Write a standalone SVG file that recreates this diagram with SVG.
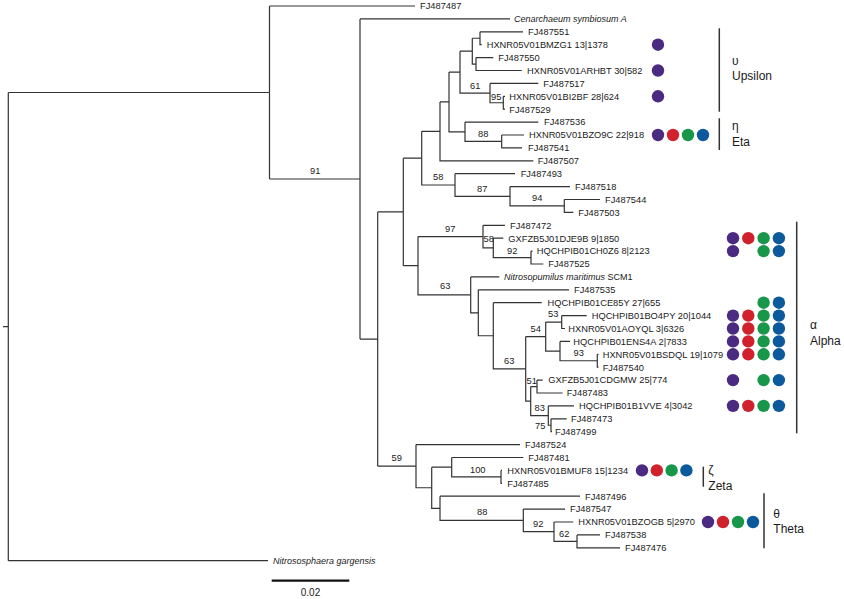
<svg xmlns="http://www.w3.org/2000/svg" width="844" height="599" viewBox="0 0 844 599">
<style>
text{font-family:"Liberation Sans",Arial,sans-serif;fill:#1a1a1a}
.lb{font-size:9.3px}
.it{font-size:9px;font-style:italic}
.bs{font-size:9.3px}
.cl{font-size:12px}
.br{fill:none;stroke:#333;stroke-width:1.2}
.bar{stroke:#333;stroke-width:1.5}
.p{fill:#4b2b82}.r{fill:#d0222c}.g{fill:#18964a}.b{fill:#0c5a9b}
</style>
<rect width="844" height="599" fill="#fff"/>
<g id="connectors">
<path class="br" d="M3 326.6H8.3 M8.3 92.49V560.7 M8.3 92.49H269.5 M8.3 560.7H268"/>
<path class="br" d="M269.5 6V178.98 M269.5 6H415 M269.5 178.98H360"/>
<path class="br" d="M360 18.9V339.06 M360 18.9H510 M360 339.06H377.7"/>
<path class="br" d="M377.7 211.95V466.17 M377.7 211.95H403.3 M377.7 466.17H416"/>
<path class="br" d="M403.3 158.18V265.72 M403.3 158.18H421.7 M403.3 265.72H418"/>
<path class="br" d="M421.7 131.37V184.99H455 M421.7 131.37H440"/>
<path class="br" d="M440 101.94V160.8H533.3 M440 101.94H449"/>
<path class="br" d="M449 72.1V131.78H465 M449 72.1H460"/>
<path class="br" d="M460 51.15V93.08H490 M460 51.15H472.3"/>
<path class="br" d="M472.3 38.25V64.05H476 M472.3 38.25H480"/>
<path class="br" d="M480 31.8V44.7H481.7 M480 31.8H523"/>
<path class="br" d="M476 57.6V70.5H521.7 M476 57.6H493.3"/>
<path class="br" d="M490 83.4V102.75H503.3 M490 83.4H538.3"/>
<path class="br" d="M503.3 96.3V109.2H505 M503.3 96.3H505"/>
<path class="br" d="M465 122.1V141.45H501.7 M465 122.1H538.3"/>
<path class="br" d="M501.7 135V147.9H522 M501.7 135H524"/>
<path class="br" d="M455 173.7V196.28H510 M455 173.7H515"/>
<path class="br" d="M510 186.6V205.95H564.3 M510 186.6H570"/>
<path class="br" d="M564.3 199.5V212.4H573.3 M564.3 199.5H600"/>
<path class="br" d="M418 236.59V294.84H470.7 M418 236.59H483"/>
<path class="br" d="M483 225.3V247.88H493.3 M483 225.3H505"/>
<path class="br" d="M493.3 238.2V257.55H531 M493.3 238.2H503.3"/>
<path class="br" d="M531 251.1V264H543.3 M531 251.1H532.5"/>
<path class="br" d="M470.7 276.9V312.78H478.3 M470.7 276.9H499.3"/>
<path class="br" d="M478.3 289.8V335.76H493.3 M478.3 289.8H569"/>
<path class="br" d="M493.3 302.7V368.81H525.7 M493.3 302.7H541.7"/>
<path class="br" d="M525.7 336.56V401.06H530.7 M525.7 336.56H545.7"/>
<path class="br" d="M545.7 322.05V351.08H560 M545.7 322.05H561.7"/>
<path class="br" d="M561.7 315.6V328.5H565 M561.7 315.6H586.7"/>
<path class="br" d="M560 341.4V360.75H597.3 M560 341.4H570"/>
<path class="br" d="M597.3 354.3V367.2H598.5 M597.3 354.3H598.5"/>
<path class="br" d="M530.7 386.55V415.58H548.3 M530.7 386.55H537"/>
<path class="br" d="M537 380.1V393H562.5 M537 380.1H542.7"/>
<path class="br" d="M548.3 405.9V425.25H551 M548.3 405.9H574"/>
<path class="br" d="M551 418.8V431.7H552 M551 418.8H566.7"/>
<path class="br" d="M416 444.6V487.74H431.7 M416 444.6H520"/>
<path class="br" d="M431.7 467.18V508.3H440 M431.7 467.18H451.7"/>
<path class="br" d="M451.7 457.5V476.85H501 M451.7 457.5H523.3"/>
<path class="br" d="M501 470.4V483.3H502 M501 470.4H502"/>
<path class="br" d="M440 496.2V520.39H523.3 M440 496.2H580"/>
<path class="br" d="M523.3 509.1V531.68H554 M523.3 509.1H565"/>
<path class="br" d="M554 522V541.35H577 M554 522H573.3"/>
<path class="br" d="M577 534.9V547.8H620 M577 534.9H600"/>
</g>
<g id="bootstrap" class="bs">
<text x="310" y="174">91</text>
<text x="470" y="88.5">61</text>
<text x="491" y="99.5">95</text>
<text x="478" y="136.5">88</text>
<text x="433" y="180">58</text>
<text x="477" y="191.5">87</text>
<text x="532" y="201">94</text>
<text x="445" y="231.5">97</text>
<text x="483.5" y="241.5">58</text>
<text x="507" y="253.5">92</text>
<text x="440" y="289">63</text>
<text x="548" y="316.5">53</text>
<text x="530.5" y="331.5">54</text>
<text x="573.5" y="356">93</text>
<text x="504" y="364">63</text>
<text x="526.5" y="383.5">51</text>
<text x="534.5" y="410.5">83</text>
<text x="535" y="428.5">75</text>
<text x="391.5" y="461">59</text>
<text x="470" y="472.5">100</text>
<text x="477" y="515">88</text>
<text x="533" y="526.5">92</text>
<text x="559" y="537">62</text>
</g>
<g id="leaf-FJ487487"><text class="lb" x="420" y="9.3">FJ487487</text></g>
<g id="leaf-Cenarchaeum"><text class="it" x="514" y="22.2">Cenarchaeum symbiosum A</text></g>
<g id="leaf-FJ487551"><text class="lb" x="528" y="35.1">FJ487551</text></g>
<g id="leaf-BMZG1"><text class="lb" x="486.7" y="48">HXNR05V01BMZG1 13|1378</text><circle class="p" cx="658" cy="44.7" r="6.2"/></g>
<g id="leaf-FJ487550"><text class="lb" x="498.3" y="60.9">FJ487550</text></g>
<g id="leaf-ARHBT"><text class="lb" x="527" y="73.8">HXNR05V01ARHBT 30|582</text><circle class="p" cx="658" cy="70.5" r="6.2"/></g>
<g id="leaf-FJ487517"><text class="lb" x="543.3" y="86.7">FJ487517</text></g>
<g id="leaf-BI2BF"><text class="lb" x="509.3" y="99.6">HXNR05V01BI2BF 28|624</text><circle class="p" cx="658" cy="96.3" r="6.2"/></g>
<g id="leaf-FJ487529"><text class="lb" x="509.3" y="112.5">FJ487529</text></g>
<g id="leaf-FJ487536"><text class="lb" x="544" y="125.4">FJ487536</text></g>
<g id="leaf-BZO9C"><text class="lb" x="529" y="138.3">HXNR05V01BZO9C 22|918</text><circle class="p" cx="658" cy="135" r="6.2"/><circle class="r" cx="673" cy="135" r="6.2"/><circle class="g" cx="688" cy="135" r="6.2"/><circle class="b" cx="703" cy="135" r="6.2"/></g>
<g id="leaf-FJ487541"><text class="lb" x="528" y="151.2">FJ487541</text></g>
<g id="leaf-FJ487507"><text class="lb" x="537.7" y="164.1">FJ487507</text></g>
<g id="leaf-FJ487493"><text class="lb" x="520.7" y="177">FJ487493</text></g>
<g id="leaf-FJ487518"><text class="lb" x="575" y="189.9">FJ487518</text></g>
<g id="leaf-FJ487544"><text class="lb" x="605" y="202.8">FJ487544</text></g>
<g id="leaf-FJ487503"><text class="lb" x="578.3" y="215.7">FJ487503</text></g>
<g id="leaf-FJ487472"><text class="lb" x="510" y="228.6">FJ487472</text></g>
<g id="leaf-DJE9B"><text class="lb" x="508.3" y="241.5">GXFZB5J01DJE9B 9|1850</text><circle class="p" cx="733" cy="238.2" r="6.2"/><circle class="r" cx="748.3" cy="238.2" r="6.2"/><circle class="g" cx="763.6" cy="238.2" r="6.2"/><circle class="b" cx="778.9" cy="238.2" r="6.2"/></g>
<g id="leaf-CH0Z6"><text class="lb" x="536.7" y="254.4">HQCHPIB01CH0Z6 8|2123</text><circle class="p" cx="733" cy="251.1" r="6.2"/><circle class="g" cx="763.6" cy="251.1" r="6.2"/><circle class="b" cx="778.9" cy="251.1" r="6.2"/></g>
<g id="leaf-FJ487525"><text class="lb" x="548.3" y="267.3">FJ487525</text></g>
<g id="leaf-Nitrosopumilus"><text x="504" y="280.2" style="font-size:9px"><tspan font-style="italic">Nitrosopumilus maritimus</tspan> SCM1</text></g>
<g id="leaf-FJ487535"><text class="lb" x="574" y="293.1">FJ487535</text></g>
<g id="leaf-CE85Y"><text class="lb" x="547.5" y="306">HQCHPIB01CE85Y 27|655</text><circle class="g" cx="763.6" cy="302.7" r="6.2"/><circle class="b" cx="778.9" cy="302.7" r="6.2"/></g>
<g id="leaf-BO4PY"><text class="lb" x="591.7" y="318.9">HQCHPIB01BO4PY 20|1044</text><circle class="p" cx="733" cy="315.6" r="6.2"/><circle class="r" cx="748.3" cy="315.6" r="6.2"/><circle class="g" cx="763.6" cy="315.6" r="6.2"/><circle class="b" cx="778.9" cy="315.6" r="6.2"/></g>
<g id="leaf-AOYQL"><text class="lb" x="568.3" y="331.8">HXNR05V01AOYQL 3|6326</text><circle class="p" cx="733" cy="328.5" r="6.2"/><circle class="r" cx="748.3" cy="328.5" r="6.2"/><circle class="g" cx="763.6" cy="328.5" r="6.2"/><circle class="b" cx="778.9" cy="328.5" r="6.2"/></g>
<g id="leaf-ENS4A"><text class="lb" x="573.3" y="344.7">HQCHPIB01ENS4A 2|7833</text><circle class="p" cx="733" cy="341.4" r="6.2"/><circle class="r" cx="748.3" cy="341.4" r="6.2"/><circle class="g" cx="763.6" cy="341.4" r="6.2"/><circle class="b" cx="778.9" cy="341.4" r="6.2"/></g>
<g id="leaf-BSDQL"><text class="lb" x="602.7" y="357.6">HXNR05V01BSDQL 19|1079</text><circle class="p" cx="733" cy="354.3" r="6.2"/><circle class="r" cx="748.3" cy="354.3" r="6.2"/><circle class="g" cx="763.6" cy="354.3" r="6.2"/><circle class="b" cx="778.9" cy="354.3" r="6.2"/></g>
<g id="leaf-FJ487540"><text class="lb" x="602.7" y="370.5">FJ487540</text></g>
<g id="leaf-CDGMW"><text class="lb" x="548.3" y="383.4">GXFZB5J01CDGMW 25|774</text><circle class="p" cx="733" cy="380.1" r="6.2"/><circle class="g" cx="763.6" cy="380.1" r="6.2"/><circle class="b" cx="778.9" cy="380.1" r="6.2"/></g>
<g id="leaf-FJ487483"><text class="lb" x="566.7" y="396.3">FJ487483</text></g>
<g id="leaf-B1VVE"><text class="lb" x="579" y="409.2">HQCHPIB01B1VVE 4|3042</text><circle class="p" cx="733" cy="405.9" r="6.2"/><circle class="r" cx="748.3" cy="405.9" r="6.2"/><circle class="g" cx="763.6" cy="405.9" r="6.2"/><circle class="b" cx="778.9" cy="405.9" r="6.2"/></g>
<g id="leaf-FJ487473"><text class="lb" x="571" y="422.1">FJ487473</text></g>
<g id="leaf-FJ487499"><text class="lb" x="555" y="435">FJ487499</text></g>
<g id="leaf-FJ487524"><text class="lb" x="525" y="447.9">FJ487524</text></g>
<g id="leaf-FJ487481"><text class="lb" x="528.3" y="460.8">FJ487481</text></g>
<g id="leaf-BMUF8"><text class="lb" x="507.3" y="473.7">HXNR05V01BMUF8 15|1234</text><circle class="p" cx="642" cy="470.4" r="6.2"/><circle class="r" cx="656.8" cy="470.4" r="6.2"/><circle class="g" cx="671.6" cy="470.4" r="6.2"/><circle class="b" cx="686.4" cy="470.4" r="6.2"/></g>
<g id="leaf-FJ487485"><text class="lb" x="507.3" y="486.6">FJ487485</text></g>
<g id="leaf-FJ487496"><text class="lb" x="585" y="499.5">FJ487496</text></g>
<g id="leaf-FJ487547"><text class="lb" x="570" y="512.4">FJ487547</text></g>
<g id="leaf-BZOGB"><text class="lb" x="578.3" y="525.3">HXNR05V01BZOGB 5|2970</text><circle class="p" cx="708" cy="522" r="6.2"/><circle class="r" cx="723" cy="522" r="6.2"/><circle class="g" cx="738" cy="522" r="6.2"/><circle class="b" cx="753" cy="522" r="6.2"/></g>
<g id="leaf-FJ487538"><text class="lb" x="605" y="538.2">FJ487538</text></g>
<g id="leaf-FJ487476"><text class="lb" x="625" y="551.1">FJ487476</text></g>
<g id="leaf-Nitrososphaera"><text class="it" x="273" y="564">Nitrososphaera gargensis</text></g>
<g id="clade-upsilon"><line class="bar" x1="719.3" y1="28.3" x2="719.3" y2="111.7"/><text class="cl" x="732" y="65">υ</text><text class="cl" x="732" y="80">Upsilon</text></g>
<g id="clade-eta"><line class="bar" x1="719.3" y1="118.3" x2="719.3" y2="150"/><text class="cl" x="732" y="130">η</text><text class="cl" x="732" y="146">Eta</text></g>
<g id="clade-alpha"><line class="bar" x1="796.7" y1="221.7" x2="796.7" y2="433.3"/><text class="cl" x="810" y="328.5">α</text><text class="cl" x="810" y="344.5">Alpha</text></g>
<g id="clade-zeta"><line class="bar" x1="703.3" y1="466.7" x2="703.3" y2="486.7"/><text class="cl" x="708.3" y="473.5">ζ</text><text class="cl" x="708.3" y="489.5">Zeta</text></g>
<g id="clade-theta"><line class="bar" x1="764" y1="493.3" x2="764" y2="548.3"/><text class="cl" x="773.3" y="518">θ</text><text class="cl" x="773.3" y="533">Theta</text></g>
<g id="scale"><line x1="271.7" y1="580.7" x2="349.3" y2="580.7" stroke="#111" stroke-width="2.2"/><text x="310.5" y="596" text-anchor="middle" style="font-size:10px">0.02</text></g>
</svg>
